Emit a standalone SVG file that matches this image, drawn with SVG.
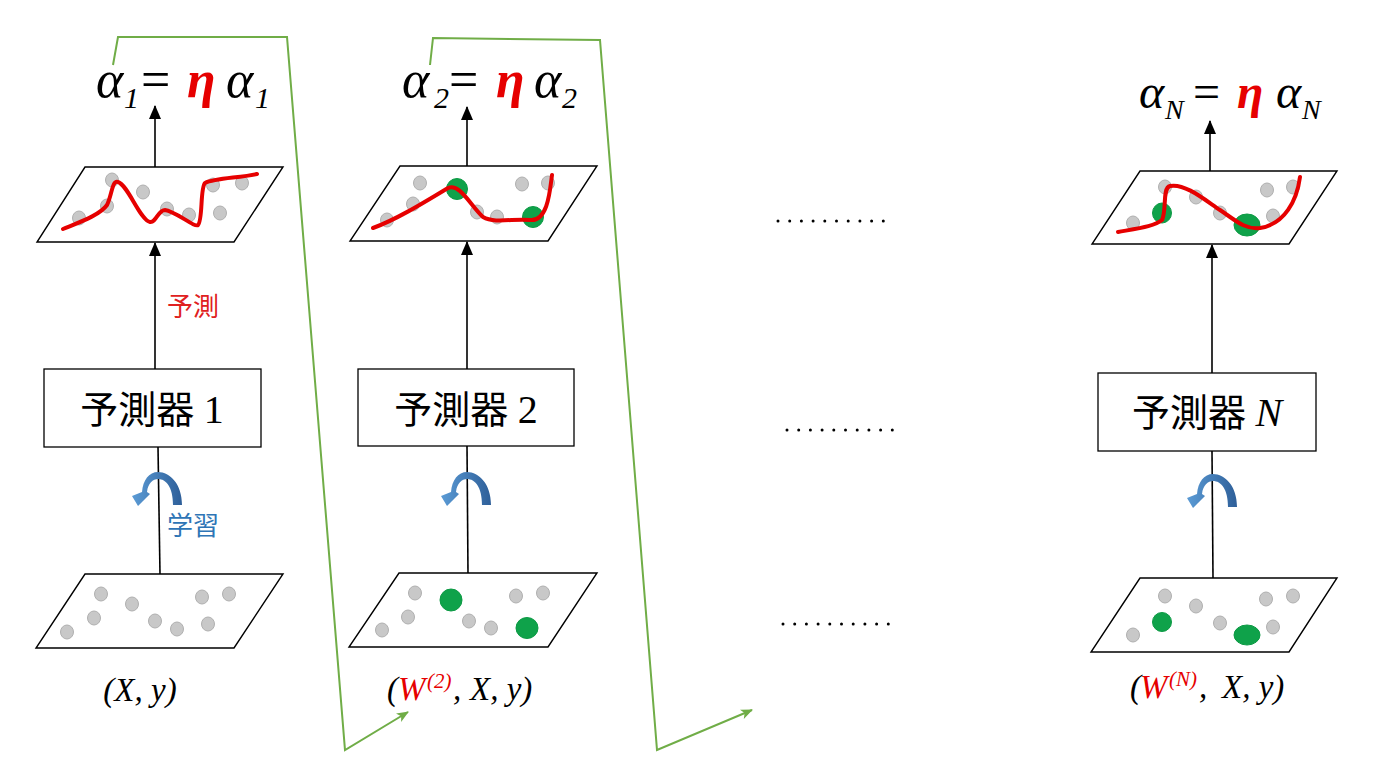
<svg xmlns="http://www.w3.org/2000/svg" width="1376" height="768" viewBox="0 0 1376 768">
<style>
.plane{fill:#fff;stroke:#000;stroke-width:1.4}
.g{fill:#c8c8c8;stroke:#b0b0b0;stroke-width:1}
.gr{fill:#0fa24a;stroke:#0c9a44;stroke-width:1}
.curve{fill:none;stroke:#e60000;stroke-width:4;stroke-linecap:round;stroke-linejoin:round}
.box{fill:#fff;stroke:#000;stroke-width:1.3}
.eq{font-family:"Liberation Serif",serif;font-style:italic;fill:#000}
.eta{fill:#e60000;font-weight:bold}
.cjk{font-family:"Noto Sans CJK JP","Noto Sans CJK SC",sans-serif;font-style:normal}
.btxt{font-family:"Liberation Serif",serif;font-size:38px;fill:#000}
.lbl{font-family:"Liberation Serif",serif;font-style:italic;font-size:33px;fill:#000}
.red{fill:#e60000}
.arr{stroke:#000;stroke-width:1.6;fill:none}
.grn{stroke:#70ad47;stroke-width:2;fill:none}
.dots{stroke:#000;stroke-width:3;stroke-linecap:round;stroke-dasharray:0 11.7}
</style>
<defs>
<marker id="ah" viewBox="0 0 14 12" refX="13" refY="6" markerWidth="14" markerHeight="12" markerUnits="userSpaceOnUse" orient="auto">
<path d="M0,0 L14,6 L0,12 Z" fill="#000"/>
</marker>
<marker id="gh" viewBox="0 0 12 10" refX="11" refY="5" markerWidth="13" markerHeight="10" markerUnits="userSpaceOnUse" orient="auto">
<path d="M0,0 L12,5 L0,10 L3,5 Z" fill="#70ad47"/>
</marker>
<linearGradient id="bl" x1="0" y1="0" x2="1" y2="0">
<stop offset="0" stop-color="#5b9bd5"/>
<stop offset="1" stop-color="#2e5f99"/>
</linearGradient>
<path id="curl" d="M24,15 C24,-6 12,-18 0,-18 C-9,-18 -15,-10 -16,2 L-26,6 L-20,16 L-8,4 L-11,2 C-10,-7 -5,-11 0,-11 C8,-11 15,-3 15,15 Z" fill="url(#bl)"/>
</defs>

<g id="connectors">
<line class="arr" x1="155" y1="369" x2="155" y2="243" marker-end="url(#ah)"/>
<line class="arr" x1="155" y1="167" x2="155" y2="106" marker-end="url(#ah)"/>
<line class="arr" x1="160" y1="574" x2="158" y2="447"/>
<line class="arr" x1="467" y1="369" x2="467" y2="242" marker-end="url(#ah)"/>
<line class="arr" x1="467" y1="166" x2="467" y2="107" marker-end="url(#ah)"/>
<line class="arr" x1="468" y1="573" x2="467" y2="446"/>
<line class="arr" x1="1212" y1="373" x2="1212" y2="245" marker-end="url(#ah)"/>
<line class="arr" x1="1210" y1="171" x2="1210" y2="121" marker-end="url(#ah)"/>
<line class="arr" x1="1213" y1="578" x2="1212" y2="451"/>
<polyline class="grn" points="113,65 118,37 287,37 345,750 408,712" marker-end="url(#gh)"/>
<polyline class="grn" points="430,65 433,38 600,40 657,750 752,710" marker-end="url(#gh)"/>
</g>

<g id="eq1">
<text class="eq" y="97" font-size="52"><tspan x="96">α</tspan><tspan x="124" dy="11" font-size="30">1</tspan><tspan x="141" dy="-11" font-style="normal">=</tspan><tspan x="187" class="eta">η</tspan><tspan x="226">α</tspan><tspan x="255" dy="11" font-size="30">1</tspan></text>
</g>
<g id="eq2">
<text class="eq" y="97" font-size="52"><tspan x="402">α</tspan><tspan x="434" dy="11" font-size="30">2</tspan><tspan x="449" dy="-11" font-style="normal">=</tspan><tspan x="496" class="eta">η</tspan><tspan x="534">α</tspan><tspan x="562" dy="11" font-size="30">2</tspan></text>
</g>
<g id="eqN">
<text class="eq" y="108" font-size="48"><tspan x="1139">α</tspan><tspan x="1165" dy="11" font-size="28">N</tspan><tspan x="1193" dy="-11" font-style="normal">=</tspan><tspan x="1237" class="eta">η</tspan><tspan x="1276">α</tspan><tspan x="1302" dy="11" font-size="28">N</tspan></text>
</g>

<g id="plane-top-1">
<polygon class="plane" points="85,167 283,167 234,242 37,242"/>
<ellipse class="g" cx="112" cy="180" rx="6.5" ry="7"/>
<ellipse class="g" cx="143" cy="192" rx="6.5" ry="7"/>
<ellipse class="g" cx="107" cy="206" rx="6.5" ry="7"/>
<ellipse class="g" cx="79" cy="218" rx="6.5" ry="7"/>
<ellipse class="g" cx="167" cy="209" rx="6.5" ry="7"/>
<ellipse class="g" cx="189" cy="215" rx="6.5" ry="7"/>
<ellipse class="g" cx="213" cy="185" rx="6.5" ry="7"/>
<ellipse class="g" cx="242" cy="183" rx="6.5" ry="7"/>
<ellipse class="g" cx="220" cy="213" rx="6.5" ry="7"/>
<path class="curve" d="M63,229 C80,222 100,215 107,205 C112,195 112,180 118,182 C128,185 140,220 150,222 C156,223 158,210 165,210 C175,211 195,228 198,225 C203,220 200,188 205,183 C215,178 240,178 257,174"/>
</g>
<g id="plane-top-2">
<polygon class="plane" points="400,166 597,166 548,241 350,241"/>
<ellipse class="g" cx="420" cy="183" rx="6.5" ry="7"/>
<ellipse class="g" cx="413" cy="204" rx="6.5" ry="7"/>
<ellipse class="g" cx="387" cy="220" rx="6.5" ry="7"/>
<ellipse class="g" cx="477" cy="212" rx="6.5" ry="7"/>
<ellipse class="g" cx="497" cy="217" rx="6.5" ry="7"/>
<ellipse class="g" cx="522" cy="184" rx="6.5" ry="7"/>
<ellipse class="g" cx="548" cy="183" rx="6.5" ry="7"/>
<ellipse class="gr" cx="457" cy="189" rx="10.5" ry="10.5"/>
<ellipse class="gr" cx="533" cy="217" rx="10.5" ry="10.5"/>
<path class="curve" d="M373,228 C395,220 420,205 448,188 C460,183 470,205 483,217 C495,224 515,218 530,220 C548,222 550,190 552,175"/>
</g>
<g id="plane-top-N">
<polygon class="plane" points="1140,171 1337,171 1289,244 1092,244"/>
<ellipse class="g" cx="1165" cy="187" rx="6.5" ry="7"/>
<ellipse class="g" cx="1196" cy="197" rx="6.5" ry="7"/>
<ellipse class="g" cx="1133" cy="223" rx="6.5" ry="7"/>
<ellipse class="g" cx="1220" cy="213" rx="6.5" ry="7"/>
<ellipse class="g" cx="1267" cy="190" rx="6.5" ry="7"/>
<ellipse class="g" cx="1293" cy="187" rx="6.5" ry="7"/>
<ellipse class="g" cx="1273" cy="216" rx="6.5" ry="7"/>
<ellipse class="gr" cx="1162" cy="213" rx="9.5" ry="10"/>
<ellipse class="gr" cx="1247" cy="225" rx="13" ry="11"/>
<path class="curve" d="M1118,232 C1140,228 1155,226 1162,220 C1167,210 1162,188 1170,186 C1185,183 1205,200 1220,210 C1235,220 1245,230 1260,228 C1285,224 1297,200 1300,177"/>
</g>

<g id="label-predict">
<text x="167" y="316" font-family="Noto Sans CJK JP,Noto Sans CJK SC,sans-serif" font-size="26" fill="#e02020">予測</text>
</g>

<g id="box1">
<rect class="box" x="44" y="369" width="217" height="78"/>
<text class="btxt" x="152" y="423" text-anchor="middle"><tspan class="cjk">予測器</tspan> <tspan font-size="40">1</tspan></text>
</g>
<g id="box2">
<rect class="box" x="358" y="369" width="216" height="77"/>
<text class="btxt" x="466" y="423" text-anchor="middle"><tspan class="cjk">予測器</tspan> <tspan font-size="40">2</tspan></text>
</g>
<g id="boxN">
<rect class="box" x="1098" y="373" width="218" height="78"/>
<text class="btxt" x="1207" y="426" text-anchor="middle"><tspan class="cjk">予測器</tspan> <tspan font-style="italic" font-size="40">N</tspan></text>
</g>

<g id="curl1"><use href="#curl" x="158" y="490"/></g>
<g id="curl2"><use href="#curl" x="467" y="490"/></g>
<g id="curlN"><use href="#curl" x="1213" y="492"/></g>

<g id="label-learn">
<text x="167" y="535" font-family="Noto Sans CJK JP,Noto Sans CJK SC,sans-serif" font-size="26" fill="#2e75b6">学習</text>
</g>

<g id="plane-bot-1">
<polygon class="plane" points="85,574 283,574 234,648 36,648"/>
<ellipse class="g" cx="101" cy="594" rx="6.5" ry="7"/>
<ellipse class="g" cx="132" cy="604" rx="6.5" ry="7"/>
<ellipse class="g" cx="94" cy="618" rx="6.5" ry="7"/>
<ellipse class="g" cx="67" cy="632" rx="6.5" ry="7"/>
<ellipse class="g" cx="155" cy="621" rx="6.5" ry="7"/>
<ellipse class="g" cx="177" cy="629" rx="6.5" ry="7"/>
<ellipse class="g" cx="202" cy="597" rx="6.5" ry="7"/>
<ellipse class="g" cx="229" cy="594" rx="6.5" ry="7"/>
<ellipse class="g" cx="208" cy="624" rx="6.5" ry="7"/>
</g>
<g id="plane-bot-2">
<polygon class="plane" points="399,573 597,573 548,647 349,647"/>
<ellipse class="g" cx="415" cy="593" rx="6.5" ry="7"/>
<ellipse class="g" cx="408" cy="617" rx="6.5" ry="7"/>
<ellipse class="g" cx="382" cy="630" rx="6.5" ry="7"/>
<ellipse class="g" cx="469" cy="621" rx="6.5" ry="7"/>
<ellipse class="g" cx="491" cy="628" rx="6.5" ry="7"/>
<ellipse class="g" cx="516" cy="596" rx="6.5" ry="7"/>
<ellipse class="g" cx="543" cy="593" rx="6.5" ry="7"/>
<ellipse class="gr" cx="451" cy="600" rx="11" ry="11"/>
<ellipse class="gr" cx="527" cy="628" rx="11" ry="10.5"/>
</g>
<g id="plane-bot-N">
<polygon class="plane" points="1140,578 1337,578 1289,652 1091,652"/>
<ellipse class="g" cx="1165" cy="596" rx="6.5" ry="7"/>
<ellipse class="g" cx="1196" cy="606" rx="6.5" ry="7"/>
<ellipse class="g" cx="1133" cy="635" rx="6.5" ry="7"/>
<ellipse class="g" cx="1220" cy="623" rx="6.5" ry="7"/>
<ellipse class="g" cx="1266" cy="599" rx="6.5" ry="7"/>
<ellipse class="g" cx="1293" cy="596" rx="6.5" ry="7"/>
<ellipse class="g" cx="1273" cy="627" rx="6.5" ry="7"/>
<ellipse class="gr" cx="1162" cy="622" rx="9.5" ry="9.5"/>
<ellipse class="gr" cx="1247" cy="635" rx="13" ry="10"/>
</g>

<g id="label-bot-1"><text class="lbl" x="140" y="701" text-anchor="middle">(X, y)</text></g>
<g id="label-bot-2"><text class="lbl" y="700"><tspan x="387">(</tspan><tspan x="398" class="red">W</tspan><tspan x="427" class="red" font-size="21" dy="-12">(2)</tspan><tspan x="453" dy="12">,</tspan><tspan x="470">X, y)</tspan></text></g>
<g id="label-bot-N"><text class="lbl" y="698"><tspan x="1130">(</tspan><tspan x="1140" class="red">W</tspan><tspan x="1169" class="red" font-size="21" dy="-12">(N)</tspan><tspan x="1199" dy="12">,</tspan><tspan x="1222">X, y)</tspan></text></g>

<g id="ellipses">
<line class="dots" x1="778" y1="221" x2="884" y2="221"/>
<line class="dots" x1="787" y1="430" x2="893" y2="430"/>
<line class="dots" x1="783" y1="624" x2="889" y2="624"/>
</g>
</svg>
